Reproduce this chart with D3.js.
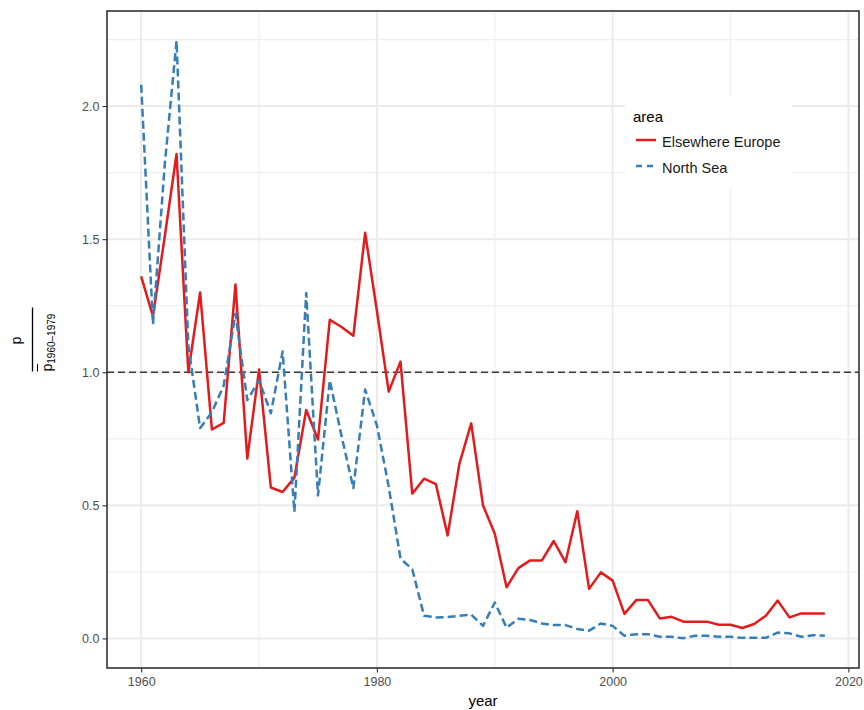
<!DOCTYPE html>
<html>
<head>
<meta charset="utf-8">
<script src="https://cdn.jsdelivr.net/npm/d3@7"></script>
<style>
  body { margin: 0; background: #fff; }
  text { font-family: "Liberation Sans", Arial, sans-serif; }
</style>
</head>
<body>
<div id="chart"></div>
<script>
// data
var years = d3.range( 1960, 2019 );

var elsewhereEurope = [
	1.36, 1.21, 1.51, 1.82, 1.00, 1.30, 0.785, 0.81, 1.33, 0.676,
	1.01, 0.567, 0.55, 0.604, 0.858, 0.747, 1.197, 1.17, 1.137, 1.524,
	1.23, 0.927, 1.04, 0.544, 0.60, 0.58, 0.387, 0.657, 0.808, 0.50,
	0.393, 0.192, 0.264, 0.293, 0.293, 0.366, 0.286, 0.478, 0.186, 0.248,
	0.217, 0.092, 0.144, 0.144, 0.075, 0.081, 0.063, 0.063, 0.063, 0.051,
	0.051, 0.039, 0.054, 0.085, 0.142, 0.079, 0.094, 0.094, 0.094
];

var northSea = [
	2.08, 1.18, 1.78, 2.245, 1.10, 0.79, 0.85, 0.95, 1.22, 0.895,
	0.97, 0.846, 1.078, 0.475, 1.298, 0.537, 0.97, 0.76, 0.565, 0.935,
	0.80, 0.57, 0.30, 0.26, 0.085, 0.079, 0.08, 0.085, 0.089, 0.047,
	0.135, 0.04, 0.074, 0.069, 0.056, 0.05, 0.05, 0.035, 0.029, 0.056,
	0.047, 0.01, 0.016, 0.016, 0.006, 0.006, 0.001, 0.01, 0.01, 0.006,
	0.006, 0.002, 0.002, 0.002, 0.022, 0.019, 0.006, 0.012, 0.01
];

var seriesNames = [ "Elsewhere Europe", "North Sea" ];
var xTicks = [ 1960, 1980, 2000, 2020 ];
var xMinor = [ 1970, 1990, 2010 ];
var yTicks = [ 0, 0.5, 1.0, 1.5, 2.0 ];
var yMinor = [ 0.25, 0.75, 1.25, 1.75, 2.25 ];
var refLevel = 1;

var width = 864, height = 710;
var panel = { left: 107, right: 859, top: 11, bottom: 668 };

var series = [
	{ name: seriesNames[0], color: "#E41A1C", dash: null,
		values: years.map( function ( y, i ) { return { year: y, value: elsewhereEurope[i] }; } ) },
	{ name: seriesNames[1], color: "#377EB8", dash: "8,4",
		values: years.map( function ( y, i ) { return { year: y, value: northSea[i] }; } ) }
];

// ggplot style 5% expansion
function expand( ext ) {
	var pad = ( ext[1] - ext[0] ) * 0.05;
	return [ ext[0] - pad, ext[1] + pad ];
}

var allValues = elsewhereEurope.concat( northSea );

var xScale = d3.scaleLinear()
	.domain( expand( d3.extent( years ) ) )
	.range( [ panel.left, panel.right ] );

var yScale = d3.scaleLinear()
	.domain( expand( d3.extent( allValues ) ) )
	.range( [ panel.bottom, panel.top ] );

var svg = d3.select( "#chart" ).append( "svg" )
	.attr( "width", width )
	.attr( "height", height );

// grid
var grid = svg.append( "g" );
grid.selectAll( ".ymin" ).data( yMinor ).enter().append( "line" )
	.attr( "x1", panel.left ).attr( "x2", panel.right )
	.attr( "y1", d => yScale( d ) ).attr( "y2", d => yScale( d ) )
	.attr( "stroke", "#EFEFEF" ).attr( "stroke-width", 1.2 );
grid.selectAll( ".xmin" ).data( xMinor ).enter().append( "line" )
	.attr( "y1", panel.top ).attr( "y2", panel.bottom )
	.attr( "x1", d => xScale( d ) ).attr( "x2", d => xScale( d ) )
	.attr( "stroke", "#EFEFEF" ).attr( "stroke-width", 1.2 );
grid.selectAll( ".ymaj" ).data( yTicks ).enter().append( "line" )
	.attr( "x1", panel.left ).attr( "x2", panel.right )
	.attr( "y1", d => yScale( d ) ).attr( "y2", d => yScale( d ) )
	.attr( "stroke", "#EBEBEB" ).attr( "stroke-width", 2 );
grid.selectAll( ".xmaj" ).data( xTicks ).enter().append( "line" )
	.attr( "y1", panel.top ).attr( "y2", panel.bottom )
	.attr( "x1", d => xScale( d ) ).attr( "x2", d => xScale( d ) )
	.attr( "stroke", "#EBEBEB" ).attr( "stroke-width", 2 );

// reference line at 1
svg.append( "line" )
	.attr( "x1", panel.left ).attr( "x2", panel.right )
	.attr( "y1", yScale( refLevel ) ).attr( "y2", yScale( refLevel ) )
	.attr( "stroke", "#3a3a3a" )
	.attr( "stroke-width", 1.6 )
	.attr( "stroke-dasharray", "7,4" );

// series lines
var line = d3.line()
	.x( d => xScale( d.year ) )
	.y( d => yScale( d.value ) );

svg.selectAll( ".serie" )
	.data( series )
	.enter()
	.append( "path" )
	.attr( "fill", "none" )
	.attr( "stroke", d => d.color )
	.attr( "stroke-width", 2.5 )
	.attr( "stroke-linejoin", "round" )
	.attr( "stroke-dasharray", d => d.dash )
	.attr( "d", d => line( d.values ) );

// panel border
svg.append( "rect" )
	.attr( "x", panel.left ).attr( "y", panel.top )
	.attr( "width", panel.right - panel.left )
	.attr( "height", panel.bottom - panel.top )
	.attr( "fill", "none" )
	.attr( "stroke", "#333333" )
	.attr( "stroke-width", 1.6 );

// axes
var xAxis = d3.axisBottom( xScale )
	.tickValues( xTicks )
	.tickFormat( d3.format( "d" ) )
	.tickSize( 4.5 )
	.tickPadding( 5 );

var yAxis = d3.axisLeft( yScale )
	.tickValues( yTicks )
	.tickFormat( d3.format( ".1f" ) )
	.tickSize( 4.5 )
	.tickPadding( 3 );

var gx = svg.append( "g" )
	.attr( "transform", `translate(0, ${ panel.bottom } )` )
	.call( xAxis );
var gy = svg.append( "g" )
	.attr( "transform", `translate( ${ panel.left }, 0 )` )
	.call( yAxis );

[ gx, gy ].forEach( function ( g ) {
	g.select( ".domain" ).remove();
	g.selectAll( ".tick line" ).attr( "stroke", "#333333" ).attr( "stroke-width", 1.1 );
	g.selectAll( ".tick text" )
		.attr( "fill", "#4D4D4D" )
		.style( "font-size", "12.5px" )
		.style( "font-family", "'Liberation Sans', Arial, sans-serif" );
} );

// axis titles
svg.append( "text" )
	.attr( "x", ( panel.left + panel.right ) / 2 )
	.attr( "y", 706 )
	.attr( "text-anchor", "middle" )
	.style( "font-size", "15px" )
	.attr( "fill", "#000" )
	.text( "year" );

var ylab = svg.append( "g" )
	.attr( "transform", `translate(0, ${ ( panel.top + panel.bottom ) / 2 } ) rotate(-90)` );

ylab.append( "text" )
	.attr( "x", -1 )
	.attr( "y", 21 )
	.attr( "text-anchor", "middle" )
	.style( "font-size", "14px" )
	.text( "p" );

ylab.append( "line" )
	.attr( "x1", -32 ).attr( "x2", 32 )
	.attr( "y1", 32.5 ).attr( "y2", 32.5 )
	.attr( "stroke", "#000" )
	.attr( "stroke-width", 1.3 );

var den = ylab.append( "text" )
	.attr( "x", -32 )
	.attr( "y", 52 )
	.attr( "text-anchor", "start" )
	.style( "font-size", "14px" );
den.append( "tspan" ).text( "p" );
den.append( "tspan" )
	.attr( "dy", 3 )
	.style( "font-size", "10px" )
	.text( "1960\u20131979" );

// bar over the denominator p
ylab.append( "line" )
	.attr( "x1", -32 ).attr( "x2", -24.5 )
	.attr( "y1", 37.5 ).attr( "y2", 37.5 )
	.attr( "stroke", "#000" )
	.attr( "stroke-width", 1.1 );

// legend
var legend = svg.append( "g" );
legend.append( "rect" )
	.attr( "x", 625 ).attr( "y", 97 )
	.attr( "width", 167 ).attr( "height", 90 )
	.attr( "fill", "#fff" );

legend.append( "text" )
	.attr( "x", 633 ).attr( "y", 122 )
	.style( "font-size", "15px" )
	.text( "area" );

var items = legend.selectAll( ".item" )
	.data( series )
	.enter()
	.append( "g" )
	.attr( "transform", ( d, i ) => `translate( 636, ${ 140 + i * 26 } )` );

items.append( "line" )
	.attr( "x1", 0 ).attr( "x2", 20 )
	.attr( "y1", 0 ).attr( "y2", 0 )
	.attr( "stroke", d => d.color )
	.attr( "stroke-width", 2.5 )
	.attr( "stroke-dasharray", d => d.dash ? "6,5" : null );

items.append( "text" )
	.attr( "x", 26 )
	.attr( "y", 6.5 )
	.style( "font-size", "14.5px" )
	.attr( "fill", "#1a1a1a" )
	.text( d => d.name );
</script>
</body>
</html>
